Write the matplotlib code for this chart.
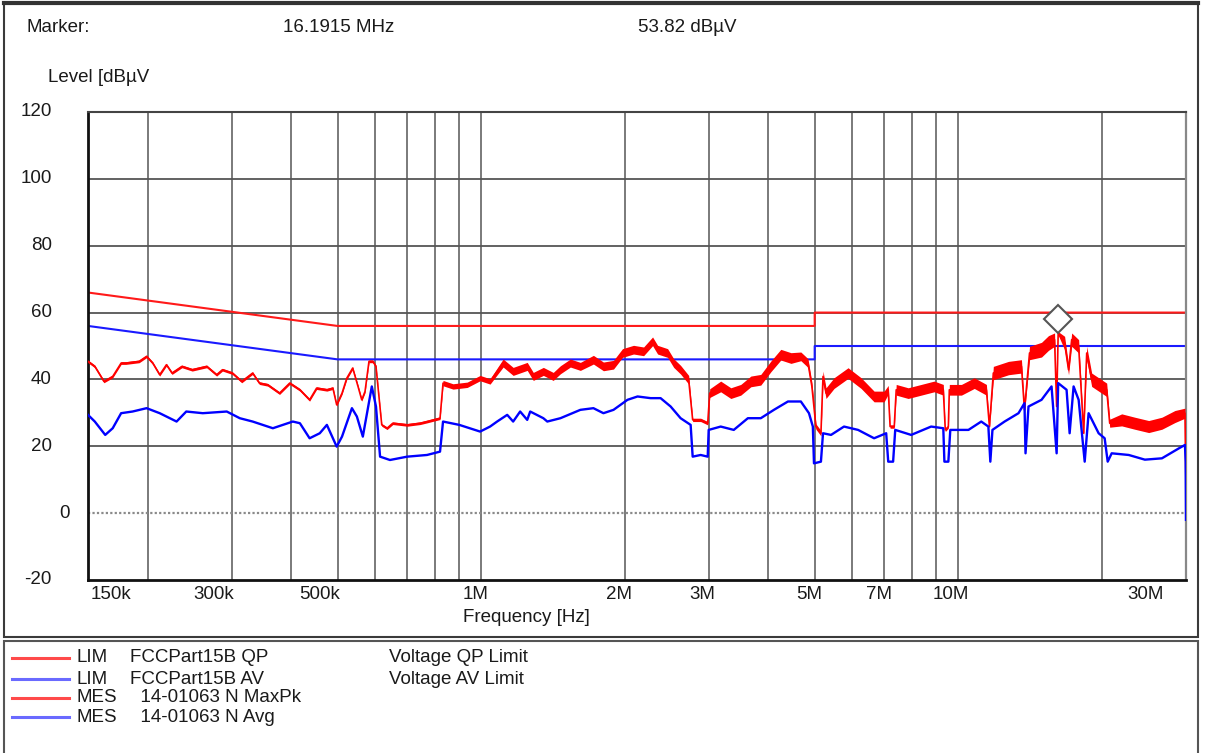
import matplotlib.pyplot as plt
from matplotlib.lines import Line2D
from matplotlib.patches import Rectangle
from matplotlib.ticker import NullLocator
from matplotlib.transforms import ScaledTranslation, blended_transform_factory

plt.rcParams['font.family'] = ['Liberation Sans', 'DejaVu Sans']

W, H = 1207, 753

# limit lines (MHz, dBuV)
lim_freq = [0.15, 0.5, 5.0, 5.0, 30.0]
lim_qp = [66, 56, 56, 60, 60]
lim_av = [56, 46, 46, 50, 50]

# MaxPk trace: frequency (MHz), level (dBuV), half width of the noise band
pk_freq = [0.150, 0.155, 0.162, 0.169, 0.176, 0.180, 0.192, 0.199, 0.205, 0.212,
           0.219, 0.225, 0.236, 0.248, 0.266, 0.279, 0.287, 0.301, 0.315, 0.332,
           0.343, 0.357, 0.378, 0.397, 0.417, 0.437, 0.452, 0.475, 0.489, 0.498,
           0.511, 0.523, 0.538, 0.552, 0.562, 0.571, 0.582, 0.593, 0.602, 0.619,
           0.635, 0.653, 0.700, 0.745, 0.770, 0.820, 0.832, 0.873, 0.935, 0.995,
           1.044, 1.112, 1.167, 1.249, 1.286, 1.350, 1.416, 1.466, 1.538, 1.614,
           1.719, 1.804, 1.894, 1.978, 2.086, 2.190, 2.287, 2.343, 2.459, 2.532,
           2.618, 2.722, 2.775, 2.884, 2.984, 3.013, 3.177, 3.336, 3.500, 3.674,
           3.855, 4.047, 4.246, 4.460, 4.677, 4.841, 4.933, 5.030, 5.153, 5.205,
           5.281, 5.490, 5.874, 6.255, 6.660, 6.990, 7.130, 7.195, 7.340, 7.410,
           7.850, 8.360, 8.900, 9.300, 9.390, 9.530, 9.575, 10.15, 10.80, 11.45,
           11.62, 11.84, 12.74, 13.56, 13.76, 14.10, 14.94, 15.45, 15.91, 16.07,
           16.19, 16.70, 17.02, 17.28, 17.87, 18.31, 18.58, 19.03, 19.97, 20.46,
           20.76, 22.00, 23.43, 25.06, 26.71, 28.44, 29.85, 30.00]
pk_level = [45.4, 43.9, 39.4, 40.9, 44.9, 44.9, 45.4, 46.9, 44.9, 41.4,
            44.4, 41.9, 43.9, 42.9, 43.9, 41.4, 42.9, 41.9, 39.4, 41.9,
            38.9, 38.4, 35.9, 38.9, 36.9, 33.9, 37.4, 36.9, 37.4, 32.4,
            35.9, 40.4, 43.4, 37.9, 33.9, 36.4, 45.4, 45.4, 43.9, 26.4,
            25.4, 26.9, 26.4, 26.9, 27.4, 28.4, 38.9, 37.9, 38.4, 40.4,
            39.4, 44.9, 42.4, 43.9, 40.9, 42.4, 40.9, 42.9, 44.9, 43.9,
            45.9, 43.9, 44.4, 47.9, 48.9, 48.4, 51.4, 48.9, 47.9, 44.9,
            42.9, 39.9, 27.9, 27.9, 26.9, 35.9, 37.9, 35.9, 36.9, 39.4,
            39.9, 43.9, 47.4, 46.4, 46.9, 44.9, 37.9, 25.9, 23.9, 40.9,
            35.9, 38.9, 41.9, 38.9, 34.9, 34.9, 36.9, 25.9, 25.9, 36.9,
            35.9, 36.9, 37.9, 36.9, 24.9, 25.9, 36.9, 36.9, 38.9, 36.9,
            25.9, 41.9, 43.4, 43.9, 30.9, 47.9, 48.9, 50.9, 51.9, 31.9,
            53.8, 50.9, 42.9, 51.9, 49.9, 23.9, 47.9, 39.9, 37.9, 36.9,
            26.9, 27.9, 26.9, 25.9, 26.9, 28.9, 29.9, 7.5]
pk_spread = [0.4, 0.4, 0.4, 0.4, 0.4, 0.4, 0.4, 0.4, 0.4, 0.4,
             0.4, 0.4, 0.4, 0.4, 0.4, 0.4, 0.4, 0.4, 0.4, 0.4,
             0.4, 0.4, 0.4, 0.4, 0.4, 0.4, 0.4, 0.4, 0.4, 0.4,
             0.4, 0.4, 0.4, 0.4, 0.4, 0.4, 0.4, 0.4, 0.4, 0.4,
             0.4, 0.4, 0.4, 0.4, 0.4, 0.4, 0.8, 0.8, 0.8, 0.8,
             0.8, 1.2, 1.2, 1.2, 1.2, 1.2, 1.2, 1.2, 1.2, 1.2,
             1.3, 1.3, 1.3, 1.3, 1.3, 1.3, 1.3, 1.3, 1.3, 1.3,
             1.3, 1.3, 0.5, 0.5, 0.5, 1.3, 1.6, 1.6, 1.6, 1.6,
             1.6, 1.6, 1.6, 1.6, 1.3, 1.3, 1.3, 0.8, 0.8, 1.6,
             1.6, 1.6, 1.6, 1.6, 1.6, 1.6, 1.3, 0.5, 0.5, 1.6,
             1.6, 1.6, 1.6, 1.6, 0.5, 0.5, 1.6, 1.6, 1.6, 1.6,
             0.5, 2.0, 2.0, 2.0, 1.0, 2.0, 2.2, 2.2, 2.0, 0.5,
             0.5, 2.0, 1.5, 2.0, 2.0, 0.5, 2.0, 2.0, 2.0, 2.0,
             1.2, 1.8, 1.8, 1.8, 1.8, 1.8, 1.5, 0]

# Avg trace
avg_freq = [0.150, 0.155, 0.163, 0.169, 0.176, 0.186, 0.199, 0.212, 0.230, 0.241,
            0.261, 0.293, 0.312, 0.332, 0.366, 0.403, 0.417, 0.437, 0.459, 0.475,
            0.498, 0.511, 0.536, 0.549, 0.565, 0.590, 0.602, 0.614, 0.644, 0.700,
            0.770, 0.820, 0.832, 0.900, 0.995, 1.044, 1.080, 1.134, 1.167, 1.207,
            1.249, 1.267, 1.350, 1.376, 1.466, 1.614, 1.719, 1.804, 1.894, 2.026,
            2.127, 2.265, 2.377, 2.495, 2.618, 2.748, 2.775, 2.884, 2.984, 2.998,
            3.177, 3.384, 3.622, 3.855, 4.107, 4.395, 4.677, 4.864, 4.956, 4.983,
            5.153, 5.205, 5.410, 5.760, 6.165, 6.660, 7.060, 7.130, 7.300, 7.375,
            7.965, 8.770, 9.300, 9.350, 9.530, 9.620, 10.50, 11.17, 11.56, 11.67,
            11.79, 12.50, 13.37, 13.76, 13.83, 14.03, 14.94, 15.68, 16.07, 16.19,
            16.86, 17.11, 17.44, 17.87, 18.40, 18.75, 19.68, 20.26, 20.56, 20.96,
            22.76, 24.60, 26.71, 29.00, 29.85, 29.95, 30.00]
avg_level = [29.4, 27.4, 23.4, 25.4, 29.9, 30.4, 31.4, 29.9, 27.4, 30.4,
             29.9, 30.4, 28.4, 27.4, 25.4, 27.4, 26.9, 22.4, 23.9, 26.4,
             19.9, 22.9, 31.4, 28.9, 22.9, 37.9, 31.9, 16.9, 15.9, 16.9,
             17.4, 18.4, 27.4, 26.4, 24.4, 25.9, 27.4, 29.4, 27.4, 30.4,
             27.9, 30.4, 28.4, 27.4, 28.4, 30.9, 31.4, 29.9, 30.9, 33.9,
             34.9, 34.4, 34.4, 31.9, 28.4, 26.4, 16.9, 17.4, 16.9, 24.9,
             25.9, 24.9, 28.4, 28.4, 30.9, 33.4, 33.4, 29.9, 25.9, 14.9,
             15.4, 23.9, 23.4, 25.9, 24.9, 22.4, 23.9, 15.4, 15.4, 24.9,
             23.4, 25.9, 25.4, 15.4, 15.4, 24.9, 24.9, 27.4, 25.9, 15.4,
             24.9, 27.4, 29.9, 32.9, 17.9, 31.9, 33.9, 37.9, 17.9, 38.9,
             36.9, 23.9, 37.9, 33.9, 15.4, 29.9, 23.9, 22.4, 15.4, 17.9,
             17.4, 16.0, 16.4, 19.4, 20.4, 15.4, -2.0]

marker_freq = 16.1915
marker_level = 53.82

y_ticks = [120, 100, 80, 60, 40, 20, 0, -20]
x_ticks = [0.15, 0.3, 0.5, 1, 2, 3, 5, 7, 10, 30]
x_labels = ['150k', '300k', '500k', '1M', '2M', '3M', '5M', '7M', '10M', '30M']
x_label_shift = [23, -18, -18, -6, -6, -7, -5, -5, -8, -40]  # px
grid_freqs = [0.2, 0.3, 0.4, 0.5, 0.6, 0.7, 0.8, 0.9, 1, 2, 3, 4, 5, 6, 7, 8, 9, 10, 20]

legend_rows = [
    ('#ff4a4a', 'LIM', 'FCCPart15B QP', 'Voltage QP Limit'),
    ('#6a6aff', 'LIM', 'FCCPart15B AV', 'Voltage AV Limit'),
    ('#ff4a4a', 'MES', '  14-01063 N MaxPk', ''),
    ('#6a6aff', 'MES', '  14-01063 N Avg', ''),
]

fig = plt.figure(figsize=(W / 100, H / 100), dpi=100)
ax = fig.add_axes([88 / W, 1 - 580 / H, 1098 / W, 468 / H])
ax.set_xscale('log')
ax.set_xlim(0.15, 30)
ax.set_ylim(-20, 120)
ax.set_xticks([])
ax.set_yticks([])
ax.xaxis.set_minor_locator(NullLocator())

# grid
for f in grid_freqs:
    ax.axvline(f, color='#7a7a7a', lw=1.4, zorder=1)
for v in [20, 40, 60, 80, 100]:
    ax.axhline(v, color='#555555', lw=1.3, zorder=1)
ax.axhline(0, color='#8a8a8a', lw=1.6, ls=(0, (1, 1)), zorder=1)

for side in ['left', 'bottom']:
    ax.spines[side].set_linewidth(2)
    ax.spines[side].set_color('#111111')
ax.spines['top'].set_color('#444444')
ax.spines['top'].set_linewidth(1.5)
ax.spines['right'].set_color('#888888')
ax.spines['right'].set_linewidth(1.6)
ax.spines['right'].set_linestyle((0, (1, 1)))

# limits
ax.plot(lim_freq, lim_qp, color='#ff1a1a', lw=1.5, zorder=2)
ax.plot(lim_freq, lim_av, color='#1a1aff', lw=1.5, zorder=2)

# measurements
pk_lo = [l - s for l, s in zip(pk_level, pk_spread)]
pk_hi = [l + s for l, s in zip(pk_level, pk_spread)]
ax.fill_between(pk_freq, pk_lo, pk_hi, color='#ff0000', lw=0, zorder=3)
ax.plot(pk_freq, pk_level, color='#ff0000', lw=1.2, zorder=3)
ax.plot(avg_freq, avg_level, color='#0000ff', lw=1.7, zorder=4)

# marker diamond sits just above the peak
mk_tr = ax.transData + ScaledTranslation(0, 0.14, fig.dpi_scale_trans)
ax.plot([marker_freq], [marker_level], marker='D', ms=14, mfc='white',
        mec='#555555', mew=1.5, transform=mk_tr, zorder=6, clip_on=False)

# tick labels
ytr = blended_transform_factory(ax.transAxes, ax.transData)
for v in y_ticks:
    xpos = -0.0164 if v == 0 else -0.0328
    ax.text(xpos, v, str(v), transform=ytr, ha='right', va='center',
            fontsize=13.5, color='#1a1a1a')
for f, s, dx in zip(x_ticks, x_labels, x_label_shift):
    tr = ax.get_xaxis_transform() + ScaledTranslation(dx / 100, 0, fig.dpi_scale_trans)
    ax.text(f, -0.032, s, transform=tr, ha='center', va='center',
            fontsize=13.5, color='#1a1a1a')


def ftext(x, y, s, **kw):
    fig.text(x / W, 1 - y / H, s, ha='left', va='center', fontsize=13.5,
             color='#1a1a1a', **kw)


ftext(27, 27, 'Marker:')
ftext(283, 27, '16.1915 MHz')
ftext(638, 27, '53.82 dBµV')
ftext(48, 78, 'Level [dBµV')
fig.text(526 / W, 1 - 618 / H, 'Frequency [Hz]', ha='center', va='center',
         fontsize=13.5, color='#1a1a1a')

# frames
fig.add_artist(Rectangle((4 / W, 1 - 637 / H), 1194 / W, 634 / H, transform=fig.transFigure,
                         fill=False, ec='#3a3a3a', lw=1.5))
fig.add_artist(Line2D([4 / W, 1198 / W], [1 - 3 / H] * 2, transform=fig.transFigure,
                      color='#333333', lw=3))
fig.add_artist(Rectangle((4 / W, -0.05), 1194 / W, 1 - 641 / H + 0.05,
                         transform=fig.transFigure, fill=False, ec='#555555', lw=1.5))

# legend
row_y = [658, 679, 698, 717]
for (c, kind, name, desc), y in zip(legend_rows, row_y):
    fig.add_artist(Line2D([12 / W, 69 / W], [1 - y / H] * 2, transform=fig.transFigure,
                          color=c, lw=2.2))
    ftext(77, y, kind)
    ftext(130, y, name)
    if desc:
        ftext(389, y, desc)

fig.savefig('out.png', dpi=100)
